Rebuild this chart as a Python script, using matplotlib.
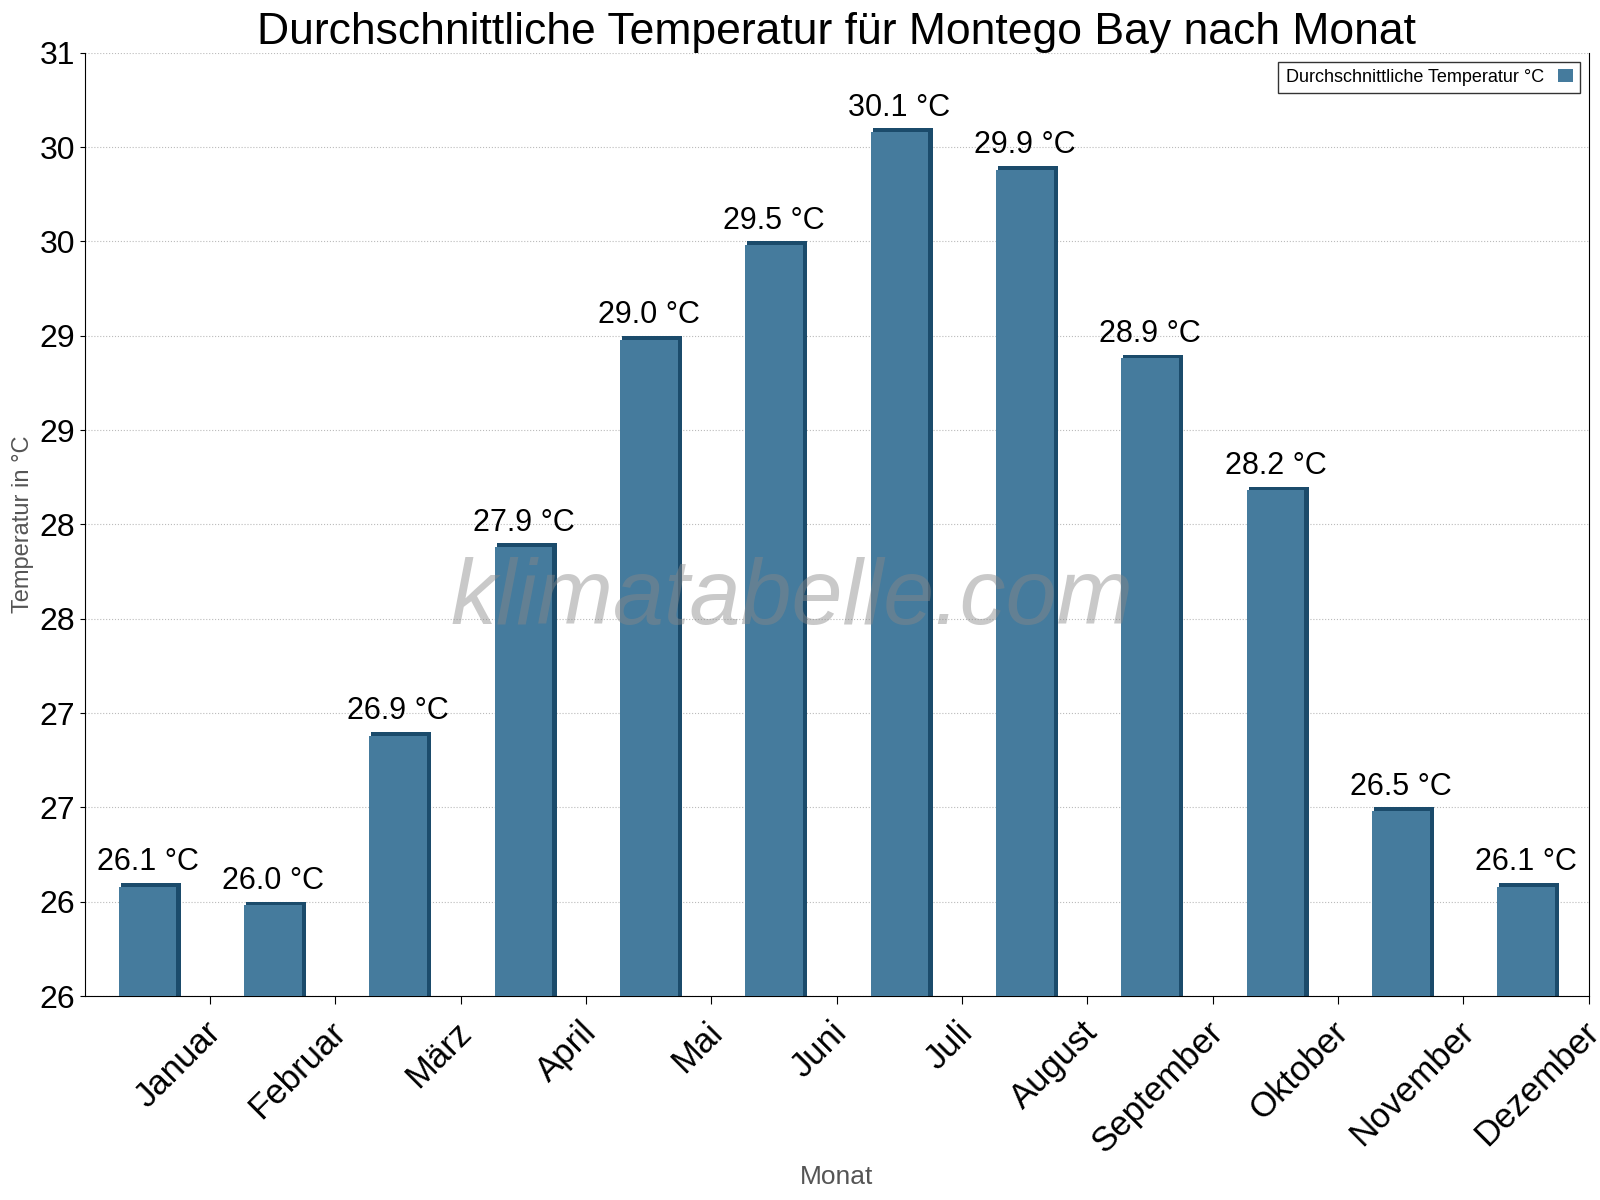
import matplotlib.pyplot as plt
import numpy as np

months = ['Januar', 'Februar', 'März', 'April', 'Mai', 'Juni', 'Juli',
          'August', 'September', 'Oktober', 'November', 'Dezember']
temps = [26.1, 26.0, 26.9, 27.9, 29.0, 29.5, 30.1, 29.9, 28.9, 28.2, 26.5, 26.1]
y_ticks = [25.5, 26.0, 26.5, 27.0, 27.5, 28.0, 28.5, 29.0, 29.5, 30.0, 30.5]
y_labels = ['26', '26', '27', '27', '28', '28', '29', '29', '30', '30', '31']

plt.rcParams['font.family'] = 'Liberation Sans'
fig = plt.figure(figsize=(16, 12), dpi=100)
ax = fig.add_axes([0.053, 0.17, 0.94, 0.786])

x = np.arange(len(months))
base = 25.5
h = np.array(temps) - base
# dark "3d" side behind the bar
ax.bar(x + 0.025, h, width=0.48, bottom=base, color='#1b4b6b', zorder=2)
ax.bar(x, h - 0.02, width=0.46, bottom=base, color='#457b9d', zorder=3,
       label='Durchschnittliche Temperatur °C')
for xi, t in zip(x, temps):
    ax.text(xi, t + 0.03, f'{t:.1f} °C', ha='center', va='bottom', fontsize=22, zorder=4)

ax.set_xlim(-0.5, len(months) - 0.5)
ax.set_ylim(25.5, 30.5)
ax.set_yticks(y_ticks)
ax.set_yticklabels(y_labels, fontsize=23)
ax.set_xticks(x + 0.5)
ax.set_xticklabels([])
ax.set_xticks(x + 0.45, minor=True)
ax.set_xticklabels(months, minor=True, rotation=45, ha='right',
                   rotation_mode='anchor', fontsize=25)
ax.tick_params(axis='x', which='minor', length=0, pad=14)
ax.tick_params(axis='x', which='major', length=6)
ax.grid(axis='y', linestyle=':', color='#bbbbbb', zorder=0)
ax.spines['top'].set_visible(False)

ax.set_ylabel('Temperatur in °C', fontsize=17, color='#555555')
ax.set_xlabel('Monat', fontsize=19, color='#555555', labelpad=4)
ax.set_title('Durchschnittliche Temperatur für Montego Bay nach Monat', fontsize=32, pad=6)
ax.text(0.47, 0.42, 'klimatabelle.com', transform=ax.transAxes, fontsize=66,
        style='italic', color='#888888', alpha=0.45, ha='center', va='center', zorder=5)
ax.legend(loc='upper right', fontsize=13, frameon=True, fancybox=False,
          edgecolor='black', markerfirst=False, handlelength=0.8)

fig.savefig('out.png', dpi=100)
